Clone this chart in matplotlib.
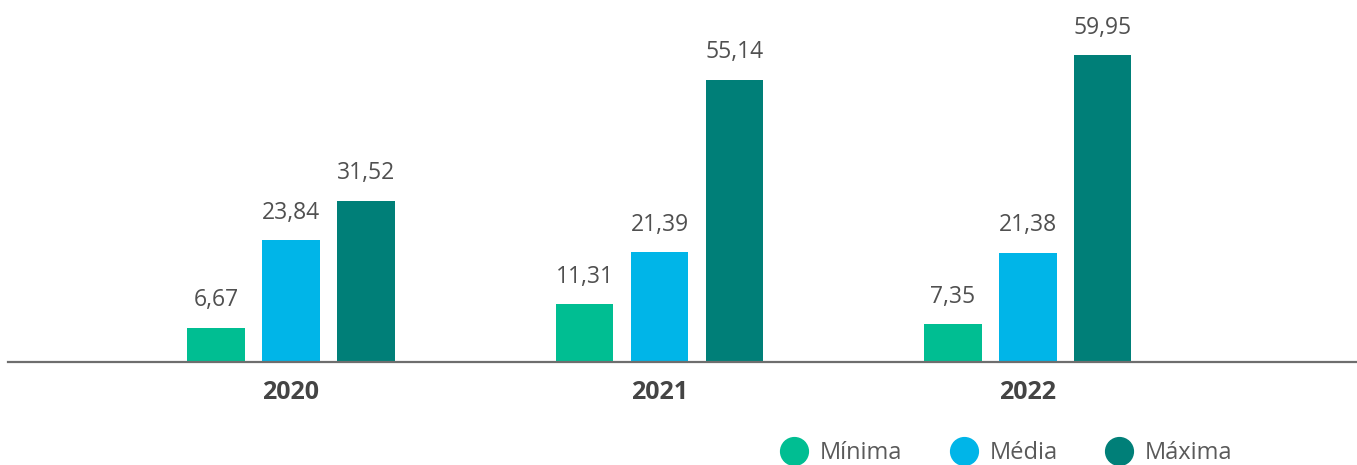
import numpy as np
import matplotlib.pyplot as plt
from matplotlib.lines import Line2D

plt.rcParams['font.family'] = ['Open Sans', 'DejaVu Sans']

anos = ['2020', '2021', '2022']
series = ['Mínima', 'Média', 'Máxima']
minima = [6.67, 11.31, 7.35]
media = [23.84, 21.39, 21.38]
maxima = [31.52, 55.14, 59.95]
cores = ['#00BE92', '#00B5E8', '#007F78']

fig = plt.figure(figsize=(13.57, 4.65), dpi=100)
ax = fig.add_axes([8 / 1357, 103 / 465, 1349 / 1357, 362 / 465])

x = np.arange(len(anos))
passo = 0.2035
larg = 0.155

for i, (vals, cor) in enumerate(zip([minima, media, maxima], cores)):
    pos = x + (i - 1) * passo
    ax.bar(pos, vals, width=larg, color=cor, zorder=2)
    for p, v in zip(pos, vals):
        ax.text(p, v + 3.0, f'{v:.2f}'.replace('.', ','), ha='center', va='bottom',
                fontsize=16.5, color='#505050')

ax.set_xlim(-0.768, 2.893)
ax.set_ylim(0, 70.7)
for s in ['top', 'right', 'left']:
    ax.spines[s].set_visible(False)
ax.spines['bottom'].set_color('#6e6e6e')
ax.spines['bottom'].set_linewidth(1.6)
ax.set_yticks([])
ax.set_xticks(x)
ax.set_xticklabels(anos, fontsize=18, fontweight='bold', color='#444444')
ax.tick_params(axis='x', length=0, pad=13)

handles = [Line2D([], [], marker='o', linestyle='', markersize=20, color=c) for c in cores]
fig.legend(handles, series, ncol=3, loc='center', bbox_to_anchor=(0.738, 0.025),
           frameon=False, fontsize=17, labelcolor='#5a5a5a', handletextpad=0.1,
           columnspacing=1.6, borderaxespad=0)

fig.savefig('out.png', dpi=100)
